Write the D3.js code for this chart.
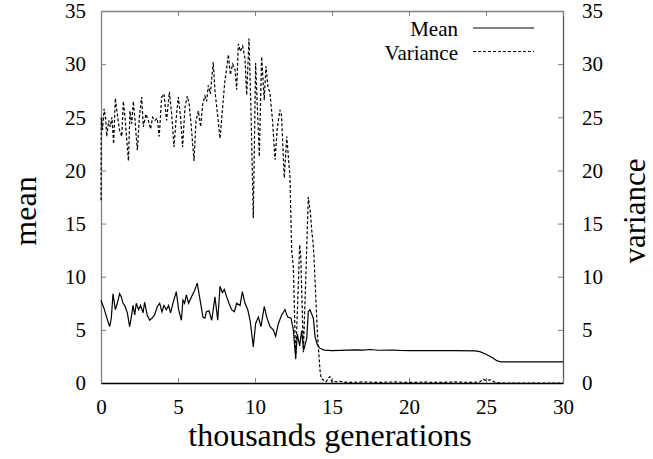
<!DOCTYPE html>
<html>
<head>
<meta charset="utf-8">
<script src="https://cdn.jsdelivr.net/npm/d3@7"></script>
<style>
  body { margin: 0; background: #fff; }
  svg text { font-family: "Liberation Serif", "Times New Roman", serif; fill: #000; }
</style>
</head>
<body>
<div id="chart"></div>
<script>
// values (x in thousands of generations)
var meanGen = [0,0.07,0.2,0.28,0.45,0.56,0.67,0.78,0.93,1.06,1.21,1.32,1.43,1.54,1.71,1.86,1.97,2.08,2.19,2.29,2.44,2.57,2.73,2.83,3.0,3.16,3.31,3.48,3.66,3.81,3.96,4.09,4.24,4.39,4.52,4.67,4.89,5.04,5.22,5.32,5.43,5.54,5.69,5.87,6.08,6.25,6.4,6.62,6.75,6.84,7.01,7.19,7.4,7.58,7.73,7.88,8.01,8.16,8.31,8.48,8.66,8.81,9.03,9.18,9.35,9.53,9.68,9.89,10.04,10.22,10.39,10.6,10.76,10.98,11.19,11.34,11.52,11.73,11.95,12.12,12.34,12.49,12.64,12.75,12.9,13.03,13.16,13.36,13.46,13.57,13.79,13.9,14.05,14.22,14.5,15,16,16.5,17,17.5,18,19,19.5,20,21,22,23,24.3,24.6,25.0,25.4,25.7,25.97,30];
var meanVal = [7.8,7.5,7.0,6.6,5.8,5.3,6.1,8.4,6.9,7.5,8.4,8.1,7.5,7.3,6.6,5.3,6.2,7.3,6.4,7.5,6.9,7.3,6.6,7.6,6.4,5.9,6.1,6.4,7.2,7.5,6.7,7.3,6.9,7.3,6.6,7.5,8.6,6.9,5.9,7.8,7.5,8.3,7.5,8.1,8.7,9.4,8.1,6.2,6.1,6.7,6.8,5.9,8.1,5.9,9.1,8.5,8.8,8.1,7.5,6.9,6.7,7.5,7.3,8.6,7.5,6.9,5.9,3.4,5.6,6.2,5.3,7.2,6.2,5.3,5.0,4.4,5.6,6.4,6.9,6.2,6.1,5.0,2.4,4.6,3.5,4.9,3.1,4.2,6.7,6.9,6.1,4.35,3.6,3.26,3.1,3.05,3.1,3.12,3.1,3.15,3.08,3.1,3.06,3.05,3.05,3.05,3.05,3.03,2.95,2.7,2.4,2.1,1.98,1.98];

var varGen = [0,0.02,0.1,0.2,0.3,0.37,0.5,0.6,0.71,0.82,0.93,1.06,1.2,1.35,1.45,1.56,1.78,1.88,1.99,2.1,2.21,2.36,2.49,2.64,2.75,2.92,3.07,3.22,3.35,3.5,3.65,3.78,3.94,4.09,4.26,4.44,4.59,4.74,4.87,5.02,5.17,5.3,5.45,5.6,5.73,5.88,6.04,6.17,6.32,6.47,6.6,6.75,6.86,6.97,7.1,7.29,7.4,7.55,7.73,7.9,8.05,8.15,8.27,8.4,8.55,8.7,8.81,8.92,9.05,9.2,9.35,9.46,9.61,9.75,9.89,10.04,10.15,10.28,10.43,10.6,10.71,10.85,10.97,11.15,11.3,11.45,11.62,11.72,11.9,12.06,12.27,12.38,12.49,12.64,12.77,12.9,12.97,13.14,13.3,13.46,13.6,13.68,13.77,13.83,14.05,14.22,14.3,14.44,14.6,14.8,14.87,15.0,15.5,16,17,18,19,20,21,22,23,24,24.6,24.8,25.0,25.3,25.6,26,30];
var varVal = [17.2,25.0,23.8,25.8,25.0,23.2,24.7,24.1,25.0,22.5,26.8,25.3,23.8,23.2,26.5,25.0,20.9,25.6,24.4,26.5,24.7,21.9,25.0,26.9,24.1,25.3,24.7,23.9,25.0,24.7,24.9,23.2,26.9,27.2,24.7,27.4,25.3,22.2,24.7,26.9,25.0,22.2,25.9,27.0,26.2,23.8,20.9,24.7,25.6,24.1,26.2,27.0,26.5,28.0,27.2,30.2,27.5,25.5,23.0,26.0,28.5,29.5,30.9,29.0,30.0,29.5,27.6,31.9,31.2,31.7,30.5,27.1,32.4,25.0,15.5,30.1,26.0,21.3,30.7,26.6,29.8,27.8,27.3,24.5,21.0,24.0,25.7,25.2,19.3,23.2,19.4,12.5,10.9,2.2,7.5,13.0,12.0,2.9,10.0,17.5,16.0,14.4,13.2,11.9,4.7,1.2,0.4,0.3,0.1,0.5,0.6,0.1,0.15,0.05,0.1,0.05,0.1,0.05,0.08,0.05,0.1,0.05,0.1,0.35,0.25,0.3,0.05,0,0];

var xTicks = [0,5,10,15,20,25,30];
var yTicks = [0,5,10,15,20,25,30,35];
var legendLabels = ["Mean", "Variance"];

const width = 653, height = 459;
const margin = {top: 11, right: 90, bottom: 76, left: 101};

var svg = d3.select("#chart").append("svg")
  .attr("width", width)
  .attr("height", height);

var x = d3.scaleLinear().domain([0, 30]).range([margin.left, width - margin.right]);
var y = d3.scaleLinear().domain([0, 35]).range([height - margin.bottom, margin.top]);

var tickGray = "#808080";

// axes (ticks point inward)
var gLeft = svg.append("g")
  .attr("transform", `translate(${margin.left},0)`)
  .call(d3.axisLeft(y).tickValues(yTicks).tickSizeInner(-5).tickSizeOuter(0).tickPadding(15));
var gRight = svg.append("g")
  .attr("transform", `translate(${width - margin.right},0)`)
  .call(d3.axisRight(y).tickValues(yTicks).tickSizeInner(-5).tickSizeOuter(0).tickPadding(19));
var gTop = svg.append("g")
  .attr("transform", `translate(0,${margin.top})`)
  .call(d3.axisTop(x).tickValues(xTicks).tickSizeInner(-5).tickSizeOuter(0).tickFormat(""));
var gBottom = svg.append("g")
  .attr("transform", `translate(0,${height - margin.bottom})`)
  .call(d3.axisBottom(x).tickValues(xTicks).tickSizeInner(-5).tickSizeOuter(0).tickPadding(16));

[gLeft, gRight, gTop, gBottom].forEach(function (g) {
  g.selectAll(".tick line").attr("stroke", tickGray);
  g.selectAll(".tick text").style("font-size", "21px");
  g.select(".domain").attr("stroke", tickGray).attr("stroke-width", 1.3);
});
gBottom.select(".domain").attr("stroke", "#000");
gRight.select(".domain").attr("stroke", "#555");
gRight.selectAll(".tick text").attr("text-anchor", "start");

// lines
var meanData = meanGen.map((g, i) => [g, meanVal[i]]);
var varData = varGen.map((g, i) => [g, varVal[i]]);

var line = d3.line()
  .x(d => x(d[0]))
  .y(d => y(d[1]));

svg.append("path")
  .datum(varData)
  .attr("fill", "none")
  .attr("stroke", "#000")
  .attr("stroke-width", 1.2)
  .attr("stroke-dasharray", "3,2")
  .attr("d", line);

svg.append("path")
  .datum(meanData)
  .attr("fill", "none")
  .attr("stroke", "#000")
  .attr("stroke-width", 1.2)
  .attr("d", line);

// legend
var legend = svg.append("g");
legendLabels.forEach(function (name, i) {
  var ly = 28 + i * 23.5;
  legend.append("text")
    .attr("x", 458)
    .attr("y", ly + 8)
    .attr("text-anchor", "end")
    .style("font-size", "21px")
    .text(name);
  legend.append("line")
    .attr("x1", 473).attr("x2", 534)
    .attr("y1", ly).attr("y2", ly)
    .attr("stroke", "#000")
    .attr("stroke-width", 1)
    .attr("stroke-dasharray", i == 1 ? "3,2" : null);
});

// axis titles
svg.append("text")
  .attr("transform", "translate(36,211) rotate(-90)")
  .attr("text-anchor", "middle")
  .style("font-size", "32px")
  .text("mean");

svg.append("text")
  .attr("transform", "translate(645,211) rotate(-90)")
  .attr("text-anchor", "middle")
  .style("font-size", "31px")
  .text("variance");

svg.append("text")
  .attr("x", 330)
  .attr("y", 446)
  .attr("text-anchor", "middle")
  .style("font-size", "32px")
  .text("thousands generations");
</script>
</body>
</html>
